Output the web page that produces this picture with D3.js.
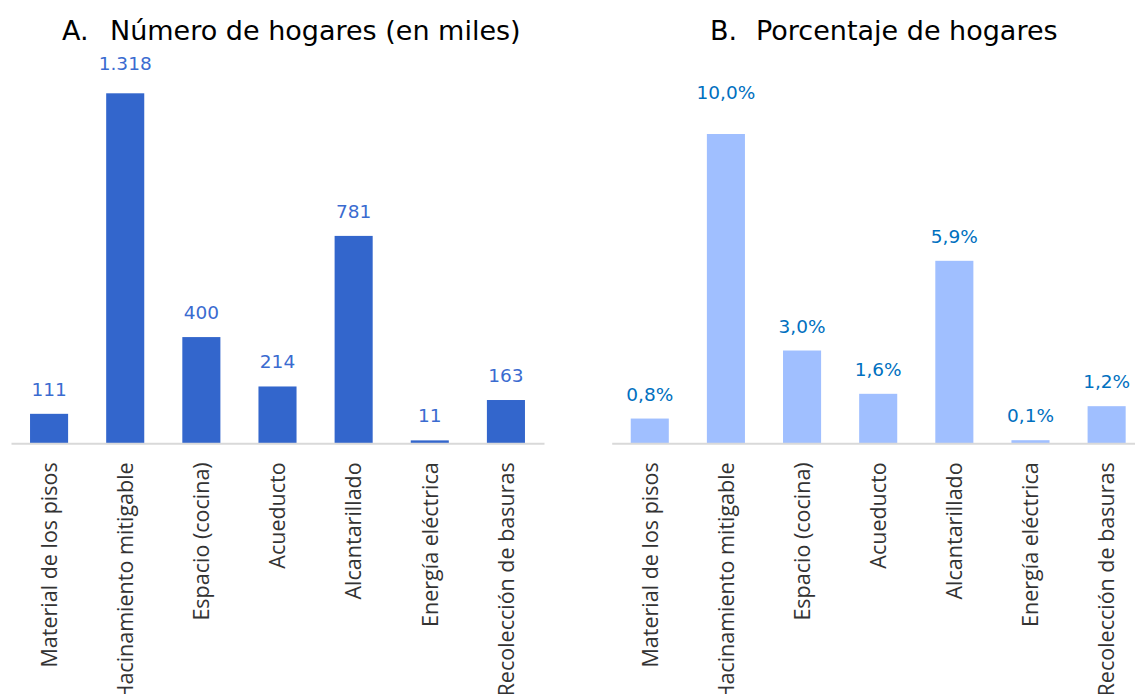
<!DOCTYPE html>
<html>
<head>
<meta charset="utf-8">
<script src="https://cdn.jsdelivr.net/npm/d3@7"></script>
<style>
  body { margin: 0; background: #fff; }
  svg { display: block; }
</style>
</head>
<body>
<svg id="chart"></svg>
<script>
// categories shared by both panels
var categories = [
  "Material de los pisos",
  "Hacinamiento mitigable",
  "Espacio (cocina)",
  "Acueducto",
  "Alcantarillado",
  "Energía eléctrica",
  "Recolección de basuras"
];
// A: households, thousands
var hogaresMiles = [111, 1318, 400, 214, 781, 11, 163];
// B: share of households, %
var hogaresPct = [0.8, 10.0, 3.0, 1.6, 5.9, 0.1, 1.2];

var fmtMiles = d3.formatLocale({ decimal: ",", thousands: ".", grouping: [3], currency: ["", ""] }).format(",d");
var fmtPct = function (v) { return v.toFixed(1).replace(".", ",") + "%"; };

var W = 1135, H = 694;
var baseY = 443.3;
var svg = d3.select("#chart").attr("width", W).attr("height", H);

function drawPanel(opts) {
  var g = svg.append("g");
  var maxVal = d3.max(opts.values);

  var x = d3.scaleBand()
    .domain(categories)
    .range([opts.x0, opts.x1])
    .paddingInner(0.5)
    .paddingOuter(0.25);

  var y = d3.scaleLinear()
    .domain([0, opts.refValue])
    .range([baseY, opts.refTop]);

  // title: letter + text, like a numbered heading
  g.append("text")
    .attr("x", opts.letterX).attr("y", 40)
    .attr("font-family", "'DejaVu Sans', Verdana, sans-serif")
    .attr("font-size", 27).attr("fill", "#000")
    .text(opts.letter);
  g.append("text")
    .attr("x", opts.titleX).attr("y", 40)
    .attr("font-family", "'DejaVu Sans', Verdana, sans-serif")
    .attr("font-size", 27).attr("fill", "#000")
    .text(opts.title);

  // bars
  g.selectAll("rect.bar")
    .data(opts.values)
    .enter()
    .append("rect")
    .attr("class", "bar")
    .attr("x", (d, i) => x(categories[i]))
    .attr("width", x.bandwidth())
    .attr("y", (d) => y(d))
    .attr("height", (d) => baseY - y(d))
    .attr("fill", opts.barColor);

  // value labels (the tallest one sits a bit higher, as in the original)
  g.selectAll("text.val")
    .data(opts.values)
    .enter()
    .append("text")
    .attr("class", "val")
    .attr("x", (d, i) => x(categories[i]) + x.bandwidth() / 2)
    .attr("y", (d) => y(d) - (d === maxVal ? opts.topLift : 18))
    .attr("text-anchor", "middle")
    .attr("font-family", "'DejaVu Sans', Verdana, sans-serif")
    .attr("font-size", 18.5)
    .attr("fill", opts.labelColor)
    .text((d) => opts.fmt(d));

  // category axis
  var axis = g.append("g")
    .attr("transform", `translate(0,${baseY})`)
    .call(d3.axisBottom(x).tickSize(0).tickPadding(0));
  axis.select(".domain")
    .attr("stroke", "#d9d9d9")
    .attr("stroke-width", 2);
  axis.selectAll(".tick text")
    .attr("transform", "rotate(-90)")
    .attr("text-anchor", "end")
    .attr("x", -19)
    .attr("y", 0)
    .attr("dy", "0.36em")
    .attr("font-family", "'Open Sans', 'Segoe UI', sans-serif")
    .attr("font-size", 21.5)
    .attr("fill", "#333");
}

drawPanel({
  values: hogaresMiles,
  x0: 11, x1: 544,
  refValue: 1318, refTop: 93.3,
  topLift: 23,
  letter: "A.", letterX: 62, titleX: 110,
  title: "Número de hogares (en miles)",
  barColor: "#3366CC",
  labelColor: "#3a6bd0",
  fmt: fmtMiles
});

drawPanel({
  values: hogaresPct,
  x0: 611.7, x1: 1144.7,
  refValue: 10.0, refTop: 134,
  topLift: 35,
  letter: "B.", letterX: 710, titleX: 756,
  title: "Porcentaje de hogares",
  barColor: "#A0BFFF",
  labelColor: "#0070C0",
  fmt: fmtPct
});
</script>
</body>
</html>
